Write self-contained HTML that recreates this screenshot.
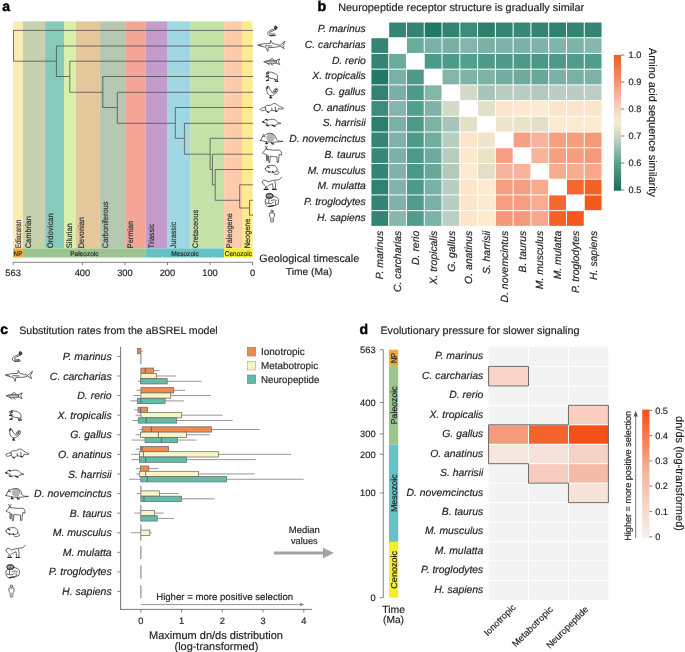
<!DOCTYPE html>
<html><head><meta charset="utf-8"><style>
html,body{margin:0;padding:0;background:#fff;}
svg{display:block;font-family:"Liberation Sans", sans-serif;will-change:transform;text-rendering:geometricPrecision;}
</style></head><body>
<svg width="685" height="652" viewBox="0 0 685 652">
<rect width="685" height="652" fill="#fff"/>
<text x="2.3" y="11.0" font-size="14" text-anchor="start" fill="#000" font-weight="bold"  stroke="#000" stroke-width="0.45">a</text>
<rect x="13.10" y="21.40" width="9.80" height="227.00" fill="#fde9b2"/>
<rect x="22.90" y="21.40" width="22.20" height="227.00" fill="#c6d2ae"/>
<rect x="45.10" y="21.40" width="18.90" height="227.00" fill="#86cbba"/>
<rect x="64.00" y="21.40" width="11.90" height="227.00" fill="#dcefaa"/>
<rect x="75.90" y="21.40" width="23.90" height="227.00" fill="#e4c89c"/>
<rect x="99.80" y="21.40" width="25.40" height="227.00" fill="#b6c7b2"/>
<rect x="125.20" y="21.40" width="20.60" height="227.00" fill="#f5a596"/>
<rect x="145.80" y="21.40" width="21.90" height="227.00" fill="#c39ccd"/>
<rect x="167.70" y="21.40" width="22.60" height="227.00" fill="#9fd8e3"/>
<rect x="190.30" y="21.40" width="33.80" height="227.00" fill="#c4e2a8"/>
<rect x="224.10" y="21.40" width="17.90" height="227.00" fill="#fdcdab"/>
<rect x="242.00" y="21.40" width="10.60" height="227.00" fill="#feeb8b"/>
<text x="21.3" y="248.2" font-size="8.0" text-anchor="start" fill="#333"  textLength="28.5" lengthAdjust="spacingAndGlyphs" transform="rotate(-90 21.3 248.2)" stroke="#333" stroke-width="0.2">Ediacaran</text>
<text x="31.1" y="248.2" font-size="8.0" text-anchor="start" fill="#333"  textLength="32" lengthAdjust="spacingAndGlyphs" transform="rotate(-90 31.1 248.2)" stroke="#333" stroke-width="0.2">Cambrian</text>
<text x="53.3" y="248.2" font-size="8.0" text-anchor="start" fill="#333"  textLength="35" lengthAdjust="spacingAndGlyphs" transform="rotate(-90 53.3 248.2)" stroke="#333" stroke-width="0.2">Ordovican</text>
<text x="72.2" y="248.2" font-size="8.0" text-anchor="start" fill="#333"  textLength="25" lengthAdjust="spacingAndGlyphs" transform="rotate(-90 72.2 248.2)" stroke="#333" stroke-width="0.2">Silurian</text>
<text x="84.1" y="248.2" font-size="8.0" text-anchor="start" fill="#333"  textLength="31" lengthAdjust="spacingAndGlyphs" transform="rotate(-90 84.1 248.2)" stroke="#333" stroke-width="0.2">Devonian</text>
<text x="108.0" y="248.2" font-size="8.0" text-anchor="start" fill="#333"  textLength="46.6" lengthAdjust="spacingAndGlyphs" transform="rotate(-90 108.0 248.2)" stroke="#333" stroke-width="0.2">Carboniferous</text>
<text x="133.4" y="248.2" font-size="8.0" text-anchor="start" fill="#333"  textLength="27.3" lengthAdjust="spacingAndGlyphs" transform="rotate(-90 133.4 248.2)" stroke="#333" stroke-width="0.2">Permian</text>
<text x="154.0" y="248.2" font-size="8.0" text-anchor="start" fill="#333"  textLength="24.3" lengthAdjust="spacingAndGlyphs" transform="rotate(-90 154.0 248.2)" stroke="#333" stroke-width="0.2">Triassic</text>
<text x="175.9" y="248.2" font-size="8.0" text-anchor="start" fill="#333"  textLength="26.3" lengthAdjust="spacingAndGlyphs" transform="rotate(-90 175.9 248.2)" stroke="#333" stroke-width="0.2">Jurassic</text>
<text x="198.5" y="248.2" font-size="8.0" text-anchor="start" fill="#333"  textLength="38.4" lengthAdjust="spacingAndGlyphs" transform="rotate(-90 198.5 248.2)" stroke="#333" stroke-width="0.2">Cretaceous</text>
<text x="232.3" y="248.2" font-size="8.0" text-anchor="start" fill="#333"  textLength="35" lengthAdjust="spacingAndGlyphs" transform="rotate(-90 232.3 248.2)" stroke="#333" stroke-width="0.2">Paleogene</text>
<text x="250.2" y="248.2" font-size="8.0" text-anchor="start" fill="#333"  textLength="29.6" lengthAdjust="spacingAndGlyphs" transform="rotate(-90 250.2 248.2)" stroke="#333" stroke-width="0.2">Neogene</text>
<rect x="13.10" y="248.40" width="9.80" height="9.10" fill="#f6a73a"/>
<text x="18.0" y="255.6" font-size="7.0" text-anchor="middle" fill="#222"  textLength="8.8" lengthAdjust="spacingAndGlyphs" stroke="#222" stroke-width="0.15">NP</text>
<rect x="22.90" y="248.40" width="122.90" height="9.10" fill="#9cc48e"/>
<text x="84.35" y="255.6" font-size="7.0" text-anchor="middle" fill="#222"  textLength="28.3" lengthAdjust="spacingAndGlyphs" stroke="#222" stroke-width="0.15">Paleozoic</text>
<rect x="145.80" y="248.40" width="78.30" height="9.10" fill="#65c3c5"/>
<text x="184.95" y="255.6" font-size="7.0" text-anchor="middle" fill="#222"  textLength="27.6" lengthAdjust="spacingAndGlyphs" stroke="#222" stroke-width="0.15">Mesozoic</text>
<rect x="224.10" y="248.40" width="28.50" height="9.10" fill="#f2ef2e"/>
<text x="238.35" y="255.6" font-size="7.0" text-anchor="middle" fill="#222"  textLength="27.1" lengthAdjust="spacingAndGlyphs" stroke="#222" stroke-width="0.15">Cenozoic</text>
<line x1="13.0" y1="262.3" x2="253.2" y2="262.3" stroke="#666" stroke-width="0.8" />
<line x1="13.11" y1="262.3" x2="13.11" y2="265.2" stroke="#666" stroke-width="0.8" />
<text x="13.11" y="275.8" font-size="9.3" text-anchor="middle" fill="#231f20"   stroke="#231f20" stroke-width="0.18">563</text>
<line x1="82.42" y1="262.3" x2="82.42" y2="265.2" stroke="#666" stroke-width="0.8" />
<text x="82.42" y="275.8" font-size="9.3" text-anchor="middle" fill="#231f20"   stroke="#231f20" stroke-width="0.18">400</text>
<line x1="124.94" y1="262.3" x2="124.94" y2="265.2" stroke="#666" stroke-width="0.8" />
<text x="124.94" y="275.8" font-size="9.3" text-anchor="middle" fill="#231f20"   stroke="#231f20" stroke-width="0.18">300</text>
<line x1="167.46" y1="262.3" x2="167.46" y2="265.2" stroke="#666" stroke-width="0.8" />
<text x="167.46" y="275.8" font-size="9.3" text-anchor="middle" fill="#231f20"   stroke="#231f20" stroke-width="0.18">200</text>
<line x1="209.98" y1="262.3" x2="209.98" y2="265.2" stroke="#666" stroke-width="0.8" />
<text x="209.98" y="275.8" font-size="9.3" text-anchor="middle" fill="#231f20"   stroke="#231f20" stroke-width="0.18">100</text>
<line x1="252.5" y1="262.3" x2="252.5" y2="265.2" stroke="#666" stroke-width="0.8" />
<text x="252.5" y="275.8" font-size="9.3" text-anchor="middle" fill="#231f20"   stroke="#231f20" stroke-width="0.18">0</text>
<text x="309.3" y="262.0" font-size="10.8" text-anchor="middle" fill="#231f20"  textLength="100" lengthAdjust="spacingAndGlyphs"  stroke="#231f20" stroke-width="0.18">Geological timescale</text>
<text x="309.0" y="275.4" font-size="10.0" text-anchor="middle" fill="#231f20"  textLength="46.4" lengthAdjust="spacingAndGlyphs"  stroke="#231f20" stroke-width="0.18">Time (Ma)</text>
<path d="M13.5 30.4V61.2M13.5 30.4H253.0M13.5 61.2H56.4M56.4 46.0V76.5M56.4 46.0H253.0M56.4 76.5H69.8M69.8 61.2V92.3M69.8 61.2H253.0M69.8 92.3H102.8M102.8 76.5V107.5M102.8 76.5H253.0M102.8 107.5H117.3M117.3 92.3V123.3M117.3 92.3H253.0M117.3 123.3H175.3M175.3 107.5V138.3M175.3 107.5H253.0M175.3 138.3H184.4M184.4 123.3V154.2M184.4 123.3H253.0M184.4 154.2H210.1M210.1 138.3V169.5M210.1 138.3H253.0M210.1 169.5H212.4M212.4 154.2V184.8M212.4 154.2H253.0M212.4 184.8H215.2M215.2 169.5V200.3M215.2 169.5H253.0M215.2 200.3H239.7M239.7 184.8V208.0M239.7 184.8H253.0M239.7 208.0H249.5M249.5 200.3V215.2M249.5 200.3H253.0M249.5 215.2H253.0" stroke="#4a4a4a" stroke-width="0.75" fill="none"/>
<text x="317.6" y="11.2" font-size="14.3" text-anchor="start" fill="#000" font-weight="bold"  stroke="#000" stroke-width="0.45">b</text>
<text x="338.2" y="11.2" font-size="10.9" text-anchor="start" fill="#231f20"  textLength="246" lengthAdjust="spacingAndGlyphs"  stroke="#231f20" stroke-width="0.18">Neuropeptide receptor structure is gradually similar</text>
<rect x="389.18" y="22.50" width="16.78" height="14.72" fill="#348573"/>
<rect x="406.96" y="22.50" width="16.78" height="14.72" fill="#338472"/>
<rect x="424.74" y="22.50" width="16.78" height="14.72" fill="#217a66"/>
<rect x="442.52" y="22.50" width="16.78" height="14.72" fill="#338371"/>
<rect x="460.30" y="22.50" width="16.78" height="14.72" fill="#3b8c7b"/>
<rect x="478.08" y="22.50" width="16.78" height="14.72" fill="#2a806c"/>
<rect x="495.86" y="22.50" width="16.78" height="14.72" fill="#348573"/>
<rect x="513.64" y="22.50" width="16.78" height="14.72" fill="#378876"/>
<rect x="531.42" y="22.50" width="16.78" height="14.72" fill="#338472"/>
<rect x="549.20" y="22.50" width="16.78" height="14.72" fill="#2e836f"/>
<rect x="566.98" y="22.50" width="16.78" height="14.72" fill="#338573"/>
<rect x="584.76" y="22.50" width="16.78" height="14.72" fill="#338473"/>
<rect x="371.40" y="38.22" width="16.78" height="14.72" fill="#348573"/>
<rect x="406.96" y="38.22" width="16.78" height="14.72" fill="#6aac9c"/>
<rect x="424.74" y="38.22" width="16.78" height="14.72" fill="#7ab1a5"/>
<rect x="442.52" y="38.22" width="16.78" height="14.72" fill="#78b0a3"/>
<rect x="460.30" y="38.22" width="16.78" height="14.72" fill="#85b5aa"/>
<rect x="478.08" y="38.22" width="16.78" height="14.72" fill="#7ab1a3"/>
<rect x="495.86" y="38.22" width="16.78" height="14.72" fill="#80b3a8"/>
<rect x="513.64" y="38.22" width="16.78" height="14.72" fill="#7cb1a5"/>
<rect x="531.42" y="38.22" width="16.78" height="14.72" fill="#80b3a8"/>
<rect x="549.20" y="38.22" width="16.78" height="14.72" fill="#80b4a8"/>
<rect x="566.98" y="38.22" width="16.78" height="14.72" fill="#80b3a8"/>
<rect x="584.76" y="38.22" width="16.78" height="14.72" fill="#8ab7ac"/>
<rect x="371.40" y="53.94" width="16.78" height="14.72" fill="#338472"/>
<rect x="389.18" y="53.94" width="16.78" height="14.72" fill="#6aac9c"/>
<rect x="424.74" y="53.94" width="16.78" height="14.72" fill="#4d9a88"/>
<rect x="442.52" y="53.94" width="16.78" height="14.72" fill="#4c9a88"/>
<rect x="460.30" y="53.94" width="16.78" height="14.72" fill="#50a08e"/>
<rect x="478.08" y="53.94" width="16.78" height="14.72" fill="#4c9a88"/>
<rect x="495.86" y="53.94" width="16.78" height="14.72" fill="#4e9b89"/>
<rect x="513.64" y="53.94" width="16.78" height="14.72" fill="#4c9a88"/>
<rect x="531.42" y="53.94" width="16.78" height="14.72" fill="#4a9986"/>
<rect x="549.20" y="53.94" width="16.78" height="14.72" fill="#4c9b89"/>
<rect x="566.98" y="53.94" width="16.78" height="14.72" fill="#4e9c8a"/>
<rect x="584.76" y="53.94" width="16.78" height="14.72" fill="#509d8b"/>
<rect x="371.40" y="69.66" width="16.78" height="14.72" fill="#217a66"/>
<rect x="389.18" y="69.66" width="16.78" height="14.72" fill="#7ab1a5"/>
<rect x="406.96" y="69.66" width="16.78" height="14.72" fill="#4d9a88"/>
<rect x="442.52" y="69.66" width="16.78" height="14.72" fill="#85b5a9"/>
<rect x="460.30" y="69.66" width="16.78" height="14.72" fill="#80b3a7"/>
<rect x="478.08" y="69.66" width="16.78" height="14.72" fill="#7db2a5"/>
<rect x="495.86" y="69.66" width="16.78" height="14.72" fill="#72ad9f"/>
<rect x="513.64" y="69.66" width="16.78" height="14.72" fill="#6eab9d"/>
<rect x="531.42" y="69.66" width="16.78" height="14.72" fill="#68a899"/>
<rect x="549.20" y="69.66" width="16.78" height="14.72" fill="#7ab1a4"/>
<rect x="566.98" y="69.66" width="16.78" height="14.72" fill="#79b1a4"/>
<rect x="584.76" y="69.66" width="16.78" height="14.72" fill="#7db2a6"/>
<rect x="371.40" y="85.38" width="16.78" height="14.72" fill="#338371"/>
<rect x="389.18" y="85.38" width="16.78" height="14.72" fill="#78b0a3"/>
<rect x="406.96" y="85.38" width="16.78" height="14.72" fill="#4c9a88"/>
<rect x="424.74" y="85.38" width="16.78" height="14.72" fill="#85b5a9"/>
<rect x="460.30" y="85.38" width="16.78" height="14.72" fill="#d4dac8"/>
<rect x="478.08" y="85.38" width="16.78" height="14.72" fill="#a9c5bb"/>
<rect x="495.86" y="85.38" width="16.78" height="14.72" fill="#b9cdc0"/>
<rect x="513.64" y="85.38" width="16.78" height="14.72" fill="#b8ccbf"/>
<rect x="531.42" y="85.38" width="16.78" height="14.72" fill="#b2c9bc"/>
<rect x="549.20" y="85.38" width="16.78" height="14.72" fill="#b9cdc0"/>
<rect x="566.98" y="85.38" width="16.78" height="14.72" fill="#b9cdc0"/>
<rect x="584.76" y="85.38" width="16.78" height="14.72" fill="#bbcec1"/>
<rect x="371.40" y="101.10" width="16.78" height="14.72" fill="#3b8c7b"/>
<rect x="389.18" y="101.10" width="16.78" height="14.72" fill="#85b5aa"/>
<rect x="406.96" y="101.10" width="16.78" height="14.72" fill="#50a08e"/>
<rect x="424.74" y="101.10" width="16.78" height="14.72" fill="#80b3a7"/>
<rect x="442.52" y="101.10" width="16.78" height="14.72" fill="#d4dac8"/>
<rect x="478.08" y="101.10" width="16.78" height="14.72" fill="#e2e0c8"/>
<rect x="495.86" y="101.10" width="16.78" height="14.72" fill="#fde5cc"/>
<rect x="513.64" y="101.10" width="16.78" height="14.72" fill="#fde8cf"/>
<rect x="531.42" y="101.10" width="16.78" height="14.72" fill="#fbebd0"/>
<rect x="549.20" y="101.10" width="16.78" height="14.72" fill="#fde5cc"/>
<rect x="566.98" y="101.10" width="16.78" height="14.72" fill="#fde5cc"/>
<rect x="584.76" y="101.10" width="16.78" height="14.72" fill="#fde5cc"/>
<rect x="371.40" y="116.82" width="16.78" height="14.72" fill="#2a806c"/>
<rect x="389.18" y="116.82" width="16.78" height="14.72" fill="#7ab1a3"/>
<rect x="406.96" y="116.82" width="16.78" height="14.72" fill="#4c9a88"/>
<rect x="424.74" y="116.82" width="16.78" height="14.72" fill="#7db2a5"/>
<rect x="442.52" y="116.82" width="16.78" height="14.72" fill="#a9c5bb"/>
<rect x="460.30" y="116.82" width="16.78" height="14.72" fill="#e2e0c8"/>
<rect x="495.86" y="116.82" width="16.78" height="14.72" fill="#f1e6cc"/>
<rect x="513.64" y="116.82" width="16.78" height="14.72" fill="#ebe3c8"/>
<rect x="531.42" y="116.82" width="16.78" height="14.72" fill="#e2dfc6"/>
<rect x="549.20" y="116.82" width="16.78" height="14.72" fill="#fdebd0"/>
<rect x="566.98" y="116.82" width="16.78" height="14.72" fill="#fdebd0"/>
<rect x="584.76" y="116.82" width="16.78" height="14.72" fill="#fdebd0"/>
<rect x="371.40" y="132.54" width="16.78" height="14.72" fill="#348573"/>
<rect x="389.18" y="132.54" width="16.78" height="14.72" fill="#80b3a8"/>
<rect x="406.96" y="132.54" width="16.78" height="14.72" fill="#4e9b89"/>
<rect x="424.74" y="132.54" width="16.78" height="14.72" fill="#72ad9f"/>
<rect x="442.52" y="132.54" width="16.78" height="14.72" fill="#b9cdc0"/>
<rect x="460.30" y="132.54" width="16.78" height="14.72" fill="#fde5cc"/>
<rect x="478.08" y="132.54" width="16.78" height="14.72" fill="#f1e6cc"/>
<rect x="513.64" y="132.54" width="16.78" height="14.72" fill="#f5a083"/>
<rect x="531.42" y="132.54" width="16.78" height="14.72" fill="#f7b39b"/>
<rect x="549.20" y="132.54" width="16.78" height="14.72" fill="#f59f7e"/>
<rect x="566.98" y="132.54" width="16.78" height="14.72" fill="#f59f7e"/>
<rect x="584.76" y="132.54" width="16.78" height="14.72" fill="#f5997a"/>
<rect x="371.40" y="148.26" width="16.78" height="14.72" fill="#378876"/>
<rect x="389.18" y="148.26" width="16.78" height="14.72" fill="#7cb1a5"/>
<rect x="406.96" y="148.26" width="16.78" height="14.72" fill="#4c9a88"/>
<rect x="424.74" y="148.26" width="16.78" height="14.72" fill="#6eab9d"/>
<rect x="442.52" y="148.26" width="16.78" height="14.72" fill="#b8ccbf"/>
<rect x="460.30" y="148.26" width="16.78" height="14.72" fill="#fde8cf"/>
<rect x="478.08" y="148.26" width="16.78" height="14.72" fill="#ebe3c8"/>
<rect x="495.86" y="148.26" width="16.78" height="14.72" fill="#f5a083"/>
<rect x="531.42" y="148.26" width="16.78" height="14.72" fill="#f7b39b"/>
<rect x="549.20" y="148.26" width="16.78" height="14.72" fill="#f59f7e"/>
<rect x="566.98" y="148.26" width="16.78" height="14.72" fill="#f59f7e"/>
<rect x="584.76" y="148.26" width="16.78" height="14.72" fill="#f5997a"/>
<rect x="371.40" y="163.98" width="16.78" height="14.72" fill="#338472"/>
<rect x="389.18" y="163.98" width="16.78" height="14.72" fill="#80b3a8"/>
<rect x="406.96" y="163.98" width="16.78" height="14.72" fill="#4a9986"/>
<rect x="424.74" y="163.98" width="16.78" height="14.72" fill="#68a899"/>
<rect x="442.52" y="163.98" width="16.78" height="14.72" fill="#b2c9bc"/>
<rect x="460.30" y="163.98" width="16.78" height="14.72" fill="#fbebd0"/>
<rect x="478.08" y="163.98" width="16.78" height="14.72" fill="#e2dfc6"/>
<rect x="495.86" y="163.98" width="16.78" height="14.72" fill="#f7b39b"/>
<rect x="513.64" y="163.98" width="16.78" height="14.72" fill="#f7b39b"/>
<rect x="549.20" y="163.98" width="16.78" height="14.72" fill="#f7ac90"/>
<rect x="566.98" y="163.98" width="16.78" height="14.72" fill="#f7ac90"/>
<rect x="584.76" y="163.98" width="16.78" height="14.72" fill="#f7a88c"/>
<rect x="371.40" y="179.70" width="16.78" height="14.72" fill="#2e836f"/>
<rect x="389.18" y="179.70" width="16.78" height="14.72" fill="#80b4a8"/>
<rect x="406.96" y="179.70" width="16.78" height="14.72" fill="#4c9b89"/>
<rect x="424.74" y="179.70" width="16.78" height="14.72" fill="#7ab1a4"/>
<rect x="442.52" y="179.70" width="16.78" height="14.72" fill="#b9cdc0"/>
<rect x="460.30" y="179.70" width="16.78" height="14.72" fill="#fde5cc"/>
<rect x="478.08" y="179.70" width="16.78" height="14.72" fill="#fdebd0"/>
<rect x="495.86" y="179.70" width="16.78" height="14.72" fill="#f59f7e"/>
<rect x="513.64" y="179.70" width="16.78" height="14.72" fill="#f59f7e"/>
<rect x="531.42" y="179.70" width="16.78" height="14.72" fill="#f7ac90"/>
<rect x="566.98" y="179.70" width="16.78" height="14.72" fill="#f56630"/>
<rect x="584.76" y="179.70" width="16.78" height="14.72" fill="#f66027"/>
<rect x="371.40" y="195.42" width="16.78" height="14.72" fill="#338573"/>
<rect x="389.18" y="195.42" width="16.78" height="14.72" fill="#80b3a8"/>
<rect x="406.96" y="195.42" width="16.78" height="14.72" fill="#4e9c8a"/>
<rect x="424.74" y="195.42" width="16.78" height="14.72" fill="#79b1a4"/>
<rect x="442.52" y="195.42" width="16.78" height="14.72" fill="#b9cdc0"/>
<rect x="460.30" y="195.42" width="16.78" height="14.72" fill="#fde5cc"/>
<rect x="478.08" y="195.42" width="16.78" height="14.72" fill="#fdebd0"/>
<rect x="495.86" y="195.42" width="16.78" height="14.72" fill="#f59f7e"/>
<rect x="513.64" y="195.42" width="16.78" height="14.72" fill="#f59f7e"/>
<rect x="531.42" y="195.42" width="16.78" height="14.72" fill="#f7ac90"/>
<rect x="549.20" y="195.42" width="16.78" height="14.72" fill="#f56630"/>
<rect x="584.76" y="195.42" width="16.78" height="14.72" fill="#f6581c"/>
<rect x="371.40" y="211.14" width="16.78" height="14.72" fill="#338473"/>
<rect x="389.18" y="211.14" width="16.78" height="14.72" fill="#8ab7ac"/>
<rect x="406.96" y="211.14" width="16.78" height="14.72" fill="#509d8b"/>
<rect x="424.74" y="211.14" width="16.78" height="14.72" fill="#7db2a6"/>
<rect x="442.52" y="211.14" width="16.78" height="14.72" fill="#bbcec1"/>
<rect x="460.30" y="211.14" width="16.78" height="14.72" fill="#fde5cc"/>
<rect x="478.08" y="211.14" width="16.78" height="14.72" fill="#fdebd0"/>
<rect x="495.86" y="211.14" width="16.78" height="14.72" fill="#f5997a"/>
<rect x="513.64" y="211.14" width="16.78" height="14.72" fill="#f5997a"/>
<rect x="531.42" y="211.14" width="16.78" height="14.72" fill="#f7a88c"/>
<rect x="549.20" y="211.14" width="16.78" height="14.72" fill="#f66027"/>
<rect x="566.98" y="211.14" width="16.78" height="14.72" fill="#f6581c"/>
<text x="365.8" y="32.16" font-size="10.35" text-anchor="end" fill="#231f20" font-style="italic"   stroke="#231f20" stroke-width="0.18">P. marinus</text>
<text x="383.39" y="230.8" font-size="10.4" text-anchor="end" fill="#231f20" font-style="italic"  transform="rotate(-90 383.39 230.8)"  stroke="#231f20" stroke-width="0.18">P. marinus</text>
<text x="365.8" y="47.88" font-size="10.35" text-anchor="end" fill="#231f20" font-style="italic"   stroke="#231f20" stroke-width="0.18">C. carcharias</text>
<text x="401.17" y="230.8" font-size="10.4" text-anchor="end" fill="#231f20" font-style="italic"  transform="rotate(-90 401.17 230.8)"  stroke="#231f20" stroke-width="0.18">C. carcharias</text>
<text x="365.8" y="63.6" font-size="10.35" text-anchor="end" fill="#231f20" font-style="italic"   stroke="#231f20" stroke-width="0.18">D. rerio</text>
<text x="418.95" y="230.8" font-size="10.4" text-anchor="end" fill="#231f20" font-style="italic"  transform="rotate(-90 418.95 230.8)"  stroke="#231f20" stroke-width="0.18">D. rerio</text>
<text x="365.8" y="79.32" font-size="10.35" text-anchor="end" fill="#231f20" font-style="italic"   stroke="#231f20" stroke-width="0.18">X. tropicalis</text>
<text x="436.73" y="230.8" font-size="10.4" text-anchor="end" fill="#231f20" font-style="italic"  transform="rotate(-90 436.73 230.8)"  stroke="#231f20" stroke-width="0.18">X. tropicalis</text>
<text x="365.8" y="95.04" font-size="10.35" text-anchor="end" fill="#231f20" font-style="italic"   stroke="#231f20" stroke-width="0.18">G. gallus</text>
<text x="454.51" y="230.8" font-size="10.4" text-anchor="end" fill="#231f20" font-style="italic"  transform="rotate(-90 454.51 230.8)"  stroke="#231f20" stroke-width="0.18">G. gallus</text>
<text x="365.8" y="110.76" font-size="10.35" text-anchor="end" fill="#231f20" font-style="italic"   stroke="#231f20" stroke-width="0.18">O. anatinus</text>
<text x="472.29" y="230.8" font-size="10.4" text-anchor="end" fill="#231f20" font-style="italic"  transform="rotate(-90 472.29 230.8)"  stroke="#231f20" stroke-width="0.18">O. anatinus</text>
<text x="365.8" y="126.48" font-size="10.35" text-anchor="end" fill="#231f20" font-style="italic"   stroke="#231f20" stroke-width="0.18">S. harrisii</text>
<text x="490.07" y="230.8" font-size="10.4" text-anchor="end" fill="#231f20" font-style="italic"  transform="rotate(-90 490.07 230.8)"  stroke="#231f20" stroke-width="0.18">S. harrisii</text>
<text x="365.8" y="142.2" font-size="10.35" text-anchor="end" fill="#231f20" font-style="italic"   stroke="#231f20" stroke-width="0.18">D. novemcinctus</text>
<text x="507.85" y="230.8" font-size="10.4" text-anchor="end" fill="#231f20" font-style="italic"  transform="rotate(-90 507.85 230.8)"  stroke="#231f20" stroke-width="0.18">D. novemcintus</text>
<text x="365.8" y="157.92" font-size="10.35" text-anchor="end" fill="#231f20" font-style="italic"   stroke="#231f20" stroke-width="0.18">B. taurus</text>
<text x="525.63" y="230.8" font-size="10.4" text-anchor="end" fill="#231f20" font-style="italic"  transform="rotate(-90 525.63 230.8)"  stroke="#231f20" stroke-width="0.18">B. taurus</text>
<text x="365.8" y="173.64" font-size="10.35" text-anchor="end" fill="#231f20" font-style="italic"   stroke="#231f20" stroke-width="0.18">M. musculus</text>
<text x="543.41" y="230.8" font-size="10.4" text-anchor="end" fill="#231f20" font-style="italic"  transform="rotate(-90 543.41 230.8)"  stroke="#231f20" stroke-width="0.18">M. musculus</text>
<text x="365.8" y="189.36" font-size="10.35" text-anchor="end" fill="#231f20" font-style="italic"   stroke="#231f20" stroke-width="0.18">M. mulatta</text>
<text x="561.19" y="230.8" font-size="10.4" text-anchor="end" fill="#231f20" font-style="italic"  transform="rotate(-90 561.19 230.8)"  stroke="#231f20" stroke-width="0.18">M. mulatta</text>
<text x="365.8" y="205.08" font-size="10.35" text-anchor="end" fill="#231f20" font-style="italic"   stroke="#231f20" stroke-width="0.18">P. troglodytes</text>
<text x="578.97" y="230.8" font-size="10.4" text-anchor="end" fill="#231f20" font-style="italic"  transform="rotate(-90 578.97 230.8)"  stroke="#231f20" stroke-width="0.18">P. troglodytes</text>
<text x="365.8" y="220.8" font-size="10.35" text-anchor="end" fill="#231f20" font-style="italic"   stroke="#231f20" stroke-width="0.18">H. sapiens</text>
<text x="596.75" y="230.8" font-size="10.4" text-anchor="end" fill="#231f20" font-style="italic"  transform="rotate(-90 596.75 230.8)"  stroke="#231f20" stroke-width="0.18">H. sapiens</text>
<defs><linearGradient id="cb1" x1="0" y1="1" x2="0" y2="0"><stop offset="0" stop-color="#1c6b58"/><stop offset="0.2" stop-color="#5f9f8c"/><stop offset="0.4" stop-color="#c8d8c8"/><stop offset="0.5" stop-color="#fbecd2"/><stop offset="0.6" stop-color="#f6d6c4"/><stop offset="0.8" stop-color="#f29478"/><stop offset="1" stop-color="#f25a22"/></linearGradient><linearGradient id="cb2" x1="0" y1="1" x2="0" y2="0"><stop offset="0" stop-color="#f6f1ef"/><stop offset="0.5" stop-color="#f6b79c"/><stop offset="1" stop-color="#f55016"/></linearGradient></defs>
<rect x="613.90" y="54.90" width="7.20" height="135.80" fill="url(#cb1)"/>
<line x1="621.1" y1="55.0" x2="624.3" y2="55.0" stroke="#555" stroke-width="0.8" />
<text x="628.6" y="58.2" font-size="9.2" text-anchor="start" fill="#231f20"   stroke="#231f20" stroke-width="0.18">1.0</text>
<line x1="621.1" y1="82.0" x2="624.3" y2="82.0" stroke="#555" stroke-width="0.8" />
<text x="628.6" y="85.2" font-size="9.2" text-anchor="start" fill="#231f20"   stroke="#231f20" stroke-width="0.18">0.9</text>
<line x1="621.1" y1="109.0" x2="624.3" y2="109.0" stroke="#555" stroke-width="0.8" />
<text x="628.6" y="112.2" font-size="9.2" text-anchor="start" fill="#231f20"   stroke="#231f20" stroke-width="0.18">0.8</text>
<line x1="621.1" y1="136.0" x2="624.3" y2="136.0" stroke="#555" stroke-width="0.8" />
<text x="628.6" y="139.2" font-size="9.2" text-anchor="start" fill="#231f20"   stroke="#231f20" stroke-width="0.18">0.7</text>
<line x1="621.1" y1="163.0" x2="624.3" y2="163.0" stroke="#555" stroke-width="0.8" />
<text x="628.6" y="166.2" font-size="9.2" text-anchor="start" fill="#231f20"   stroke="#231f20" stroke-width="0.18">0.6</text>
<line x1="621.1" y1="190.0" x2="624.3" y2="190.0" stroke="#555" stroke-width="0.8" />
<text x="628.6" y="193.2" font-size="9.2" text-anchor="start" fill="#231f20"   stroke="#231f20" stroke-width="0.18">0.5</text>
<text x="649.0" y="48.0" font-size="10.85" text-anchor="start" fill="#231f20"  textLength="149" lengthAdjust="spacingAndGlyphs" transform="rotate(90 649.0 48.0)"  stroke="#231f20" stroke-width="0.18">Amino acid sequence similarity</text>
<text x="0.3" y="333.6" font-size="14" text-anchor="start" fill="#000" font-weight="bold"  stroke="#000" stroke-width="0.45">c</text>
<text x="19.2" y="333.9" font-size="10.6" text-anchor="start" fill="#231f20"  textLength="198.5" lengthAdjust="spacingAndGlyphs"  stroke="#231f20" stroke-width="0.18">Substitution rates from the aBSREL model</text>
<text x="111.7" y="360.0" font-size="10.5" text-anchor="end" fill="#231f20" font-style="italic"   stroke="#231f20" stroke-width="0.18">P. marinus</text>
<line x1="117.3" y1="356.4" x2="120.6" y2="356.4" stroke="#666" stroke-width="0.8" />
<text x="111.7" y="379.59" font-size="10.5" text-anchor="end" fill="#231f20" font-style="italic"   stroke="#231f20" stroke-width="0.18">C. carcharias</text>
<line x1="117.3" y1="375.99" x2="120.6" y2="375.99" stroke="#666" stroke-width="0.8" />
<text x="111.7" y="399.18" font-size="10.5" text-anchor="end" fill="#231f20" font-style="italic"   stroke="#231f20" stroke-width="0.18">D. rerio</text>
<line x1="117.3" y1="395.58" x2="120.6" y2="395.58" stroke="#666" stroke-width="0.8" />
<text x="111.7" y="418.77" font-size="10.5" text-anchor="end" fill="#231f20" font-style="italic"   stroke="#231f20" stroke-width="0.18">X. tropicalis</text>
<line x1="117.3" y1="415.17" x2="120.6" y2="415.17" stroke="#666" stroke-width="0.8" />
<text x="111.7" y="438.36" font-size="10.5" text-anchor="end" fill="#231f20" font-style="italic"   stroke="#231f20" stroke-width="0.18">G. gallus</text>
<line x1="117.3" y1="434.76" x2="120.6" y2="434.76" stroke="#666" stroke-width="0.8" />
<text x="111.7" y="457.95" font-size="10.5" text-anchor="end" fill="#231f20" font-style="italic"   stroke="#231f20" stroke-width="0.18">O. anatinus</text>
<line x1="117.3" y1="454.35" x2="120.6" y2="454.35" stroke="#666" stroke-width="0.8" />
<text x="111.7" y="477.54" font-size="10.5" text-anchor="end" fill="#231f20" font-style="italic"   stroke="#231f20" stroke-width="0.18">S. harrisii</text>
<line x1="117.3" y1="473.94" x2="120.6" y2="473.94" stroke="#666" stroke-width="0.8" />
<text x="111.7" y="497.13" font-size="10.5" text-anchor="end" fill="#231f20" font-style="italic"   stroke="#231f20" stroke-width="0.18">D. novemcinctus</text>
<line x1="117.3" y1="493.53" x2="120.6" y2="493.53" stroke="#666" stroke-width="0.8" />
<text x="111.7" y="516.72" font-size="10.5" text-anchor="end" fill="#231f20" font-style="italic"   stroke="#231f20" stroke-width="0.18">B. taurus</text>
<line x1="117.3" y1="513.12" x2="120.6" y2="513.12" stroke="#666" stroke-width="0.8" />
<text x="111.7" y="536.31" font-size="10.5" text-anchor="end" fill="#231f20" font-style="italic"   stroke="#231f20" stroke-width="0.18">M. musculus</text>
<line x1="117.3" y1="532.71" x2="120.6" y2="532.71" stroke="#666" stroke-width="0.8" />
<text x="111.7" y="555.9" font-size="10.5" text-anchor="end" fill="#231f20" font-style="italic"   stroke="#231f20" stroke-width="0.18">M. mulatta</text>
<line x1="117.3" y1="552.3" x2="120.6" y2="552.3" stroke="#666" stroke-width="0.8" />
<text x="111.7" y="575.49" font-size="10.5" text-anchor="end" fill="#231f20" font-style="italic"   stroke="#231f20" stroke-width="0.18">P. troglodytes</text>
<line x1="117.3" y1="571.89" x2="120.6" y2="571.89" stroke="#666" stroke-width="0.8" />
<text x="111.7" y="595.08" font-size="10.5" text-anchor="end" fill="#231f20" font-style="italic"   stroke="#231f20" stroke-width="0.18">H. sapiens</text>
<line x1="117.3" y1="591.48" x2="120.6" y2="591.48" stroke="#666" stroke-width="0.8" />
<line x1="120.6" y1="346.8" x2="120.6" y2="609.8" stroke="#666" stroke-width="0.9" />
<line x1="120.2" y1="609.4" x2="312.0" y2="609.4" stroke="#666" stroke-width="0.9" />
<line x1="140.8" y1="609.4" x2="140.8" y2="612.4" stroke="#666" stroke-width="0.8" />
<text x="140.8" y="623.6" font-size="9.3" text-anchor="middle" fill="#231f20"   stroke="#231f20" stroke-width="0.18">0</text>
<line x1="181.55" y1="609.4" x2="181.55" y2="612.4" stroke="#666" stroke-width="0.8" />
<text x="181.55" y="623.6" font-size="9.3" text-anchor="middle" fill="#231f20"   stroke="#231f20" stroke-width="0.18">1</text>
<line x1="222.3" y1="609.4" x2="222.3" y2="612.4" stroke="#666" stroke-width="0.8" />
<text x="222.3" y="623.6" font-size="9.3" text-anchor="middle" fill="#231f20"   stroke="#231f20" stroke-width="0.18">2</text>
<line x1="263.05" y1="609.4" x2="263.05" y2="612.4" stroke="#666" stroke-width="0.8" />
<text x="263.05" y="623.6" font-size="9.3" text-anchor="middle" fill="#231f20"   stroke="#231f20" stroke-width="0.18">3</text>
<line x1="303.8" y1="609.4" x2="303.8" y2="612.4" stroke="#666" stroke-width="0.8" />
<text x="303.8" y="623.6" font-size="9.3" text-anchor="middle" fill="#231f20"   stroke="#231f20" stroke-width="0.18">4</text>
<text x="216.0" y="638.6" font-size="11.0" text-anchor="middle" fill="#231f20"  textLength="134" lengthAdjust="spacingAndGlyphs"  stroke="#231f20" stroke-width="0.18">Maximum dn/ds distribution</text>
<text x="216.4" y="650.0" font-size="10.9" text-anchor="middle" fill="#231f20"  textLength="83.8" lengthAdjust="spacingAndGlyphs"  stroke="#231f20" stroke-width="0.18">(log-transformed)</text>
<text x="224.7" y="599.8" font-size="9.6" text-anchor="middle" fill="#231f20"  textLength="137" lengthAdjust="spacingAndGlyphs"  stroke="#231f20" stroke-width="0.18">Higher = more positive selection</text>
<line x1="140.8" y1="604.6" x2="301.0" y2="604.6" stroke="#8a8a8a" stroke-width="0.9" />
<path d="M304.5 604.6 L299.5 602.6 L300.6 604.6 L299.5 606.6 Z" fill="#8a8a8a"/>
<rect x="247.50" y="347.40" width="8.20" height="8.60" fill="#f0894f" stroke="#b96d45" stroke-width="0.6"/>
<rect x="247.50" y="361.30" width="8.20" height="8.60" fill="#f8f5c5" stroke="#aaa890" stroke-width="0.6"/>
<rect x="247.50" y="375.00" width="8.20" height="8.60" fill="#62bca8" stroke="#4f8c80" stroke-width="0.6"/>
<text x="261.0" y="354.9" font-size="10.0" text-anchor="start" fill="#231f20"  textLength="43.8" lengthAdjust="spacingAndGlyphs"  stroke="#231f20" stroke-width="0.18">Ionotropic</text>
<text x="261.0" y="368.8" font-size="10.0" text-anchor="start" fill="#231f20"  textLength="57.2" lengthAdjust="spacingAndGlyphs"  stroke="#231f20" stroke-width="0.18">Metabotropic</text>
<text x="261.0" y="382.6" font-size="10.0" text-anchor="start" fill="#231f20"  textLength="58.4" lengthAdjust="spacingAndGlyphs"  stroke="#231f20" stroke-width="0.18">Neuropeptide</text>
<text x="304.3" y="533.0" font-size="9.5" text-anchor="middle" fill="#231f20"  textLength="31.1" lengthAdjust="spacingAndGlyphs"  stroke="#231f20" stroke-width="0.18">Median</text>
<text x="304.3" y="543.8" font-size="9.3" text-anchor="middle" fill="#231f20"  textLength="26.7" lengthAdjust="spacingAndGlyphs"  stroke="#231f20" stroke-width="0.18">values</text>
<path d="M274 551.5 H323 V547.8 L334 553.0 L323 558.2 V554.6 H274 Z" fill="#a3a3a3"/>
<line x1="140.9" y1="351.1" x2="142.7" y2="351.1" stroke="#7a7a7a" stroke-width="0.8" />
<rect x="137.40" y="348.45" width="3.50" height="5.30" fill="#f0894f" stroke="#6b6b6b" stroke-width="0.75"/>
<line x1="153.5" y1="370.69" x2="159.7" y2="370.69" stroke="#7a7a7a" stroke-width="0.8" />
<rect x="140.90" y="368.04" width="12.60" height="5.30" fill="#f0894f" stroke="#6b6b6b" stroke-width="0.75"/>
<line x1="145.3" y1="368.04" x2="145.3" y2="373.34" stroke="#555" stroke-width="0.8" />
<line x1="156.3" y1="375.99" x2="176.0" y2="375.99" stroke="#7a7a7a" stroke-width="0.8" />
<rect x="140.90" y="373.34" width="15.40" height="5.30" fill="#f8f5c5" stroke="#6b6b6b" stroke-width="0.75"/>
<line x1="138.1" y1="381.29" x2="140.6" y2="381.29" stroke="#7a7a7a" stroke-width="0.8" />
<line x1="167.2" y1="381.29" x2="201.7" y2="381.29" stroke="#7a7a7a" stroke-width="0.8" />
<rect x="140.60" y="378.64" width="26.60" height="5.30" fill="#62bca8" stroke="#6b6b6b" stroke-width="0.75"/>
<line x1="136.4" y1="390.28" x2="140.9" y2="390.28" stroke="#7a7a7a" stroke-width="0.8" />
<line x1="173.7" y1="390.28" x2="185.1" y2="390.28" stroke="#7a7a7a" stroke-width="0.8" />
<rect x="140.90" y="387.63" width="32.80" height="5.30" fill="#f0894f" stroke="#6b6b6b" stroke-width="0.75"/>
<line x1="133.2" y1="395.58" x2="140.9" y2="395.58" stroke="#7a7a7a" stroke-width="0.8" />
<line x1="170.7" y1="395.58" x2="211.0" y2="395.58" stroke="#7a7a7a" stroke-width="0.8" />
<rect x="140.90" y="392.93" width="29.80" height="5.30" fill="#f8f5c5" stroke="#6b6b6b" stroke-width="0.75"/>
<line x1="130.4" y1="400.88" x2="137.4" y2="400.88" stroke="#7a7a7a" stroke-width="0.8" />
<line x1="165.1" y1="400.88" x2="183.9" y2="400.88" stroke="#7a7a7a" stroke-width="0.8" />
<rect x="137.40" y="398.23" width="27.70" height="5.30" fill="#62bca8" stroke="#6b6b6b" stroke-width="0.75"/>
<line x1="140.9" y1="398.23" x2="140.9" y2="403.53" stroke="#555" stroke-width="0.8" />
<line x1="134.3" y1="409.87" x2="138.1" y2="409.87" stroke="#7a7a7a" stroke-width="0.8" />
<rect x="138.10" y="407.22" width="9.50" height="5.30" fill="#f0894f" stroke="#6b6b6b" stroke-width="0.75"/>
<line x1="140.6" y1="407.22" x2="140.6" y2="412.52" stroke="#555" stroke-width="0.8" />
<line x1="135.7" y1="415.17" x2="140.9" y2="415.17" stroke="#7a7a7a" stroke-width="0.8" />
<line x1="181.6" y1="415.17" x2="222.7" y2="415.17" stroke="#7a7a7a" stroke-width="0.8" />
<rect x="140.90" y="412.52" width="40.70" height="5.30" fill="#f8f5c5" stroke="#6b6b6b" stroke-width="0.75"/>
<line x1="132.5" y1="420.47" x2="138.3" y2="420.47" stroke="#7a7a7a" stroke-width="0.8" />
<line x1="176.7" y1="420.47" x2="232.7" y2="420.47" stroke="#7a7a7a" stroke-width="0.8" />
<rect x="138.30" y="417.82" width="38.40" height="5.30" fill="#62bca8" stroke="#6b6b6b" stroke-width="0.75"/>
<line x1="146.2" y1="417.82" x2="146.2" y2="423.12" stroke="#555" stroke-width="0.8" />
<line x1="139.2" y1="429.46" x2="142.2" y2="429.46" stroke="#7a7a7a" stroke-width="0.8" />
<line x1="211.4" y1="429.46" x2="259.7" y2="429.46" stroke="#7a7a7a" stroke-width="0.8" />
<rect x="142.20" y="426.81" width="69.20" height="5.30" fill="#f0894f" stroke="#6b6b6b" stroke-width="0.75"/>
<line x1="151.4" y1="426.81" x2="151.4" y2="432.11" stroke="#555" stroke-width="0.8" />
<line x1="135.7" y1="434.76" x2="140.4" y2="434.76" stroke="#7a7a7a" stroke-width="0.8" />
<line x1="186.5" y1="434.76" x2="209.6" y2="434.76" stroke="#7a7a7a" stroke-width="0.8" />
<rect x="140.40" y="432.11" width="46.10" height="5.30" fill="#f8f5c5" stroke="#6b6b6b" stroke-width="0.75"/>
<line x1="158.4" y1="432.11" x2="158.4" y2="437.41" stroke="#555" stroke-width="0.8" />
<line x1="131.6" y1="440.06" x2="145.1" y2="440.06" stroke="#7a7a7a" stroke-width="0.8" />
<line x1="177.5" y1="440.06" x2="196.5" y2="440.06" stroke="#7a7a7a" stroke-width="0.8" />
<rect x="145.10" y="437.41" width="32.40" height="5.30" fill="#62bca8" stroke="#6b6b6b" stroke-width="0.75"/>
<line x1="161.4" y1="437.41" x2="161.4" y2="442.71" stroke="#555" stroke-width="0.8" />
<line x1="136.0" y1="449.05" x2="140.6" y2="449.05" stroke="#7a7a7a" stroke-width="0.8" />
<rect x="140.60" y="446.40" width="28.00" height="5.30" fill="#f0894f" stroke="#6b6b6b" stroke-width="0.75"/>
<line x1="142.0" y1="446.4" x2="142.0" y2="451.7" stroke="#555" stroke-width="0.8" />
<line x1="131.1" y1="454.35" x2="139.5" y2="454.35" stroke="#7a7a7a" stroke-width="0.8" />
<line x1="218.4" y1="454.35" x2="291.2" y2="454.35" stroke="#7a7a7a" stroke-width="0.8" />
<rect x="139.50" y="451.70" width="78.90" height="5.30" fill="#f8f5c5" stroke="#6b6b6b" stroke-width="0.75"/>
<line x1="143.4" y1="451.7" x2="143.4" y2="457.0" stroke="#555" stroke-width="0.8" />
<line x1="131.6" y1="459.65" x2="139.5" y2="459.65" stroke="#7a7a7a" stroke-width="0.8" />
<line x1="186.5" y1="459.65" x2="255.8" y2="459.65" stroke="#7a7a7a" stroke-width="0.8" />
<rect x="139.50" y="457.00" width="47.00" height="5.30" fill="#62bca8" stroke="#6b6b6b" stroke-width="0.75"/>
<line x1="145.7" y1="457.0" x2="145.7" y2="462.3" stroke="#555" stroke-width="0.8" />
<line x1="136.0" y1="468.64" x2="140.6" y2="468.64" stroke="#7a7a7a" stroke-width="0.8" />
<line x1="148.8" y1="468.64" x2="157.9" y2="468.64" stroke="#7a7a7a" stroke-width="0.8" />
<rect x="140.60" y="465.99" width="8.20" height="5.30" fill="#f0894f" stroke="#6b6b6b" stroke-width="0.75"/>
<line x1="136.4" y1="473.94" x2="139.5" y2="473.94" stroke="#7a7a7a" stroke-width="0.8" />
<line x1="198.6" y1="473.94" x2="254.7" y2="473.94" stroke="#7a7a7a" stroke-width="0.8" />
<rect x="139.50" y="471.29" width="59.10" height="5.30" fill="#f8f5c5" stroke="#6b6b6b" stroke-width="0.75"/>
<line x1="145.7" y1="471.29" x2="145.7" y2="476.59" stroke="#555" stroke-width="0.8" />
<line x1="129.0" y1="479.24" x2="140.8" y2="479.24" stroke="#7a7a7a" stroke-width="0.8" />
<line x1="226.6" y1="479.24" x2="303.7" y2="479.24" stroke="#7a7a7a" stroke-width="0.8" />
<rect x="140.80" y="476.59" width="85.80" height="5.30" fill="#62bca8" stroke="#6b6b6b" stroke-width="0.75"/>
<line x1="147.4" y1="476.59" x2="147.4" y2="481.89" stroke="#555" stroke-width="0.8" />
<line x1="137.0" y1="493.53" x2="140.9" y2="493.53" stroke="#7a7a7a" stroke-width="0.8" />
<line x1="159.4" y1="493.53" x2="178.7" y2="493.53" stroke="#7a7a7a" stroke-width="0.8" />
<rect x="140.90" y="490.88" width="18.50" height="5.30" fill="#f8f5c5" stroke="#6b6b6b" stroke-width="0.75"/>
<line x1="181.6" y1="498.83" x2="214.6" y2="498.83" stroke="#7a7a7a" stroke-width="0.8" />
<rect x="140.80" y="496.18" width="40.80" height="5.30" fill="#62bca8" stroke="#6b6b6b" stroke-width="0.75"/>
<line x1="144.0" y1="496.18" x2="144.0" y2="501.48" stroke="#555" stroke-width="0.8" />
<line x1="134.4" y1="513.12" x2="140.8" y2="513.12" stroke="#7a7a7a" stroke-width="0.8" />
<line x1="154.6" y1="513.12" x2="163.6" y2="513.12" stroke="#7a7a7a" stroke-width="0.8" />
<rect x="140.80" y="510.47" width="13.80" height="5.30" fill="#f8f5c5" stroke="#6b6b6b" stroke-width="0.75"/>
<line x1="157.2" y1="518.42" x2="173.9" y2="518.42" stroke="#7a7a7a" stroke-width="0.8" />
<rect x="140.80" y="515.77" width="16.40" height="5.30" fill="#62bca8" stroke="#6b6b6b" stroke-width="0.75"/>
<line x1="131.1" y1="532.71" x2="140.8" y2="532.71" stroke="#7a7a7a" stroke-width="0.8" />
<line x1="149.8" y1="532.71" x2="151.4" y2="532.71" stroke="#7a7a7a" stroke-width="0.8" />
<rect x="140.80" y="530.06" width="9.00" height="5.30" fill="#f8f5c5" stroke="#6b6b6b" stroke-width="0.75"/>
<line x1="140.9" y1="353.8" x2="140.9" y2="364.3" stroke="#6b6b6b" stroke-width="0.9" />
<line x1="140.9" y1="485.43" x2="140.9" y2="491.23" stroke="#6b6b6b" stroke-width="0.9" />
<line x1="140.9" y1="505.02" x2="140.9" y2="510.62" stroke="#6b6b6b" stroke-width="0.9" />
<line x1="140.9" y1="524.61" x2="140.9" y2="530.11" stroke="#6b6b6b" stroke-width="0.9" />
<line x1="140.9" y1="535.31" x2="140.9" y2="540.61" stroke="#6b6b6b" stroke-width="0.9" />
<line x1="140.9" y1="546.0" x2="140.9" y2="559.0" stroke="#6b6b6b" stroke-width="0.9" />
<line x1="140.9" y1="565.59" x2="140.9" y2="578.59" stroke="#6b6b6b" stroke-width="0.9" />
<line x1="140.9" y1="585.18" x2="140.9" y2="598.18" stroke="#6b6b6b" stroke-width="0.9" />
<text x="359.6" y="333.8" font-size="14" text-anchor="start" fill="#000" font-weight="bold"  stroke="#000" stroke-width="0.45">d</text>
<text x="380.4" y="333.8" font-size="10.75" text-anchor="start" fill="#231f20"  textLength="199.1" lengthAdjust="spacingAndGlyphs"  stroke="#231f20" stroke-width="0.18">Evolutionary pressure for slower signaling</text>
<rect x="488.60" y="347.00" width="39.93" height="19.45" fill="#f3f3f3"/>
<rect x="528.53" y="347.00" width="39.93" height="19.45" fill="#f3f3f3"/>
<rect x="568.46" y="347.00" width="39.93" height="19.45" fill="#f3f3f3"/>
<rect x="488.60" y="366.45" width="39.93" height="19.45" fill="#f3f3f3"/>
<rect x="528.53" y="366.45" width="39.93" height="19.45" fill="#f3f3f3"/>
<rect x="568.46" y="366.45" width="39.93" height="19.45" fill="#f3f3f3"/>
<rect x="488.60" y="385.90" width="39.93" height="19.45" fill="#f3f3f3"/>
<rect x="528.53" y="385.90" width="39.93" height="19.45" fill="#f3f3f3"/>
<rect x="568.46" y="385.90" width="39.93" height="19.45" fill="#f3f3f3"/>
<rect x="488.60" y="405.35" width="39.93" height="19.45" fill="#f3f3f3"/>
<rect x="528.53" y="405.35" width="39.93" height="19.45" fill="#f3f3f3"/>
<rect x="568.46" y="405.35" width="39.93" height="19.45" fill="#f3f3f3"/>
<rect x="488.60" y="424.80" width="39.93" height="19.45" fill="#f3f3f3"/>
<rect x="528.53" y="424.80" width="39.93" height="19.45" fill="#f3f3f3"/>
<rect x="568.46" y="424.80" width="39.93" height="19.45" fill="#f3f3f3"/>
<rect x="488.60" y="444.25" width="39.93" height="19.45" fill="#f3f3f3"/>
<rect x="528.53" y="444.25" width="39.93" height="19.45" fill="#f3f3f3"/>
<rect x="568.46" y="444.25" width="39.93" height="19.45" fill="#f3f3f3"/>
<rect x="488.60" y="463.70" width="39.93" height="19.45" fill="#f3f3f3"/>
<rect x="528.53" y="463.70" width="39.93" height="19.45" fill="#f3f3f3"/>
<rect x="568.46" y="463.70" width="39.93" height="19.45" fill="#f3f3f3"/>
<rect x="488.60" y="483.15" width="39.93" height="19.45" fill="#f3f3f3"/>
<rect x="528.53" y="483.15" width="39.93" height="19.45" fill="#f3f3f3"/>
<rect x="568.46" y="483.15" width="39.93" height="19.45" fill="#f3f3f3"/>
<rect x="488.60" y="502.60" width="39.93" height="19.45" fill="#f3f3f3"/>
<rect x="528.53" y="502.60" width="39.93" height="19.45" fill="#f3f3f3"/>
<rect x="568.46" y="502.60" width="39.93" height="19.45" fill="#f3f3f3"/>
<rect x="488.60" y="522.05" width="39.93" height="19.45" fill="#f3f3f3"/>
<rect x="528.53" y="522.05" width="39.93" height="19.45" fill="#f3f3f3"/>
<rect x="568.46" y="522.05" width="39.93" height="19.45" fill="#f3f3f3"/>
<rect x="488.60" y="541.50" width="39.93" height="19.45" fill="#f3f3f3"/>
<rect x="528.53" y="541.50" width="39.93" height="19.45" fill="#f3f3f3"/>
<rect x="568.46" y="541.50" width="39.93" height="19.45" fill="#f3f3f3"/>
<rect x="488.60" y="560.95" width="39.93" height="19.45" fill="#f3f3f3"/>
<rect x="528.53" y="560.95" width="39.93" height="19.45" fill="#f3f3f3"/>
<rect x="568.46" y="560.95" width="39.93" height="19.45" fill="#f3f3f3"/>
<rect x="488.60" y="580.40" width="39.93" height="19.45" fill="#f3f3f3"/>
<rect x="528.53" y="580.40" width="39.93" height="19.45" fill="#f3f3f3"/>
<rect x="568.46" y="580.40" width="39.93" height="19.45" fill="#f3f3f3"/>
<rect x="488.60" y="366.45" width="39.93" height="19.45" fill="#f8d5c8"/>
<rect x="568.46" y="405.35" width="39.93" height="19.45" fill="#f8cfc0"/>
<rect x="488.60" y="424.80" width="39.93" height="19.45" fill="#f59a7a"/>
<rect x="528.53" y="424.80" width="39.93" height="19.45" fill="#f5622a"/>
<rect x="568.46" y="424.80" width="39.93" height="19.45" fill="#f55016"/>
<rect x="488.60" y="444.25" width="39.93" height="19.45" fill="#f6e7df"/>
<rect x="528.53" y="444.25" width="39.93" height="19.45" fill="#f7e2d9"/>
<rect x="568.46" y="444.25" width="39.93" height="19.45" fill="#f5d2c5"/>
<rect x="528.53" y="463.70" width="39.93" height="19.45" fill="#f6cdbf"/>
<rect x="568.46" y="463.70" width="39.93" height="19.45" fill="#f5bca5"/>
<rect x="568.46" y="483.15" width="39.93" height="19.45" fill="#f7e3da"/>
<line x1="528.53" y1="347.0" x2="528.53" y2="599.85" stroke="#fff" stroke-width="1.0" />
<line x1="568.46" y1="347.0" x2="568.46" y2="599.85" stroke="#fff" stroke-width="1.0" />
<line x1="488.6" y1="366.45" x2="608.39" y2="366.45" stroke="#fff" stroke-width="1.0" />
<line x1="488.6" y1="385.9" x2="608.39" y2="385.9" stroke="#fff" stroke-width="1.0" />
<line x1="488.6" y1="405.35" x2="608.39" y2="405.35" stroke="#fff" stroke-width="1.0" />
<line x1="488.6" y1="424.8" x2="608.39" y2="424.8" stroke="#fff" stroke-width="1.0" />
<line x1="488.6" y1="444.25" x2="608.39" y2="444.25" stroke="#fff" stroke-width="1.0" />
<line x1="488.6" y1="463.7" x2="608.39" y2="463.7" stroke="#fff" stroke-width="1.0" />
<line x1="488.6" y1="483.15" x2="608.39" y2="483.15" stroke="#fff" stroke-width="1.0" />
<line x1="488.6" y1="502.6" x2="608.39" y2="502.6" stroke="#fff" stroke-width="1.0" />
<line x1="488.6" y1="522.05" x2="608.39" y2="522.05" stroke="#fff" stroke-width="1.0" />
<line x1="488.6" y1="541.5" x2="608.39" y2="541.5" stroke="#fff" stroke-width="1.0" />
<line x1="488.6" y1="560.95" x2="608.39" y2="560.95" stroke="#fff" stroke-width="1.0" />
<line x1="488.6" y1="580.4" x2="608.39" y2="580.4" stroke="#fff" stroke-width="1.0" />
<path d="M488.60 366.45 L528.53 366.45 L528.53 385.90 L488.60 385.90 Z" fill="none" stroke="#5a5a5a" stroke-width="0.9"/>
<path d="M568.46 405.35 L608.39 405.35 L608.39 502.60 L568.46 502.60 L568.46 483.15 L528.53 483.15 L528.53 463.70 L488.60 463.70 L488.60 424.80 L568.46 424.80 Z" fill="none" stroke="#5a5a5a" stroke-width="0.9"/>
<text x="483.3" y="359.43" font-size="10.4" text-anchor="end" fill="#231f20" font-style="italic"   stroke="#231f20" stroke-width="0.18">P. marinus</text>
<text x="483.3" y="378.88" font-size="10.4" text-anchor="end" fill="#231f20" font-style="italic"   stroke="#231f20" stroke-width="0.18">C. carcharias</text>
<text x="483.3" y="398.32" font-size="10.4" text-anchor="end" fill="#231f20" font-style="italic"   stroke="#231f20" stroke-width="0.18">D. rerio</text>
<text x="483.3" y="417.77" font-size="10.4" text-anchor="end" fill="#231f20" font-style="italic"   stroke="#231f20" stroke-width="0.18">X. tropicalis</text>
<text x="483.3" y="437.22" font-size="10.4" text-anchor="end" fill="#231f20" font-style="italic"   stroke="#231f20" stroke-width="0.18">G. gallus</text>
<text x="483.3" y="456.68" font-size="10.4" text-anchor="end" fill="#231f20" font-style="italic"   stroke="#231f20" stroke-width="0.18">O. anatinus</text>
<text x="483.3" y="476.12" font-size="10.4" text-anchor="end" fill="#231f20" font-style="italic"   stroke="#231f20" stroke-width="0.18">S. harrisii</text>
<text x="483.3" y="495.57" font-size="10.4" text-anchor="end" fill="#231f20" font-style="italic"   stroke="#231f20" stroke-width="0.18">D. novemcinctus</text>
<text x="483.3" y="515.03" font-size="10.4" text-anchor="end" fill="#231f20" font-style="italic"   stroke="#231f20" stroke-width="0.18">B. taurus</text>
<text x="483.3" y="534.48" font-size="10.4" text-anchor="end" fill="#231f20" font-style="italic"   stroke="#231f20" stroke-width="0.18">M. musculus</text>
<text x="483.3" y="553.93" font-size="10.4" text-anchor="end" fill="#231f20" font-style="italic"   stroke="#231f20" stroke-width="0.18">M. mulatta</text>
<text x="483.3" y="573.38" font-size="10.4" text-anchor="end" fill="#231f20" font-style="italic"   stroke="#231f20" stroke-width="0.18">P. troglodytes</text>
<text x="483.3" y="592.83" font-size="10.4" text-anchor="end" fill="#231f20" font-style="italic"   stroke="#231f20" stroke-width="0.18">H. sapiens</text>
<text x="516.3" y="607.9" font-size="9.2" text-anchor="end" fill="#231f20"  transform="rotate(-45 516.3 607.9)"  stroke="#231f20" stroke-width="0.18">Ionotropic</text>
<text x="553.4" y="610.0" font-size="9.2" text-anchor="end" fill="#231f20"  transform="rotate(-45 553.4 610.0)"  stroke="#231f20" stroke-width="0.18">Metabotropic</text>
<text x="588.9" y="610.0" font-size="9.2" text-anchor="end" fill="#231f20"  transform="rotate(-45 588.9 610.0)"  stroke="#231f20" stroke-width="0.18">Neuropeptide</text>
<line x1="383.3" y1="349.7" x2="383.3" y2="597.7" stroke="#666" stroke-width="0.8" />
<line x1="379.9" y1="349.7" x2="383.3" y2="349.7" stroke="#666" stroke-width="0.8" />
<text x="375.6" y="353.0" font-size="9.3" text-anchor="end" fill="#231f20"   stroke="#231f20" stroke-width="0.18">563</text>
<line x1="379.9" y1="402.5" x2="383.3" y2="402.5" stroke="#666" stroke-width="0.8" />
<text x="375.6" y="405.8" font-size="9.3" text-anchor="end" fill="#231f20"   stroke="#231f20" stroke-width="0.18">400</text>
<line x1="379.9" y1="433.9" x2="383.3" y2="433.9" stroke="#666" stroke-width="0.8" />
<text x="375.6" y="437.2" font-size="9.3" text-anchor="end" fill="#231f20"   stroke="#231f20" stroke-width="0.18">300</text>
<line x1="379.9" y1="454.3" x2="383.3" y2="454.3" stroke="#666" stroke-width="0.8" />
<text x="375.6" y="457.6" font-size="9.3" text-anchor="end" fill="#231f20"   stroke="#231f20" stroke-width="0.18">200</text>
<line x1="379.9" y1="493.0" x2="383.3" y2="493.0" stroke="#666" stroke-width="0.8" />
<text x="375.6" y="496.3" font-size="9.3" text-anchor="end" fill="#231f20"   stroke="#231f20" stroke-width="0.18">100</text>
<line x1="379.9" y1="597.7" x2="383.3" y2="597.7" stroke="#666" stroke-width="0.8" />
<text x="375.6" y="601.0" font-size="9.3" text-anchor="end" fill="#231f20"   stroke="#231f20" stroke-width="0.18">0</text>
<rect x="389.00" y="349.70" width="9.20" height="16.40" fill="#f6a73a"/>
<text x="396.6" y="357.9" font-size="8.6" text-anchor="middle" fill="#222"  textLength="10.2" lengthAdjust="spacingAndGlyphs" transform="rotate(-90 396.6 357.9)"  stroke="#222" stroke-width="0.18">NP</text>
<rect x="389.00" y="366.10" width="9.20" height="78.40" fill="#9cc48e"/>
<text x="396.6" y="405.3" font-size="8.6" text-anchor="middle" fill="#222"  textLength="37.8" lengthAdjust="spacingAndGlyphs" transform="rotate(-90 396.6 405.3)"  stroke="#222" stroke-width="0.18">Paleozoic</text>
<rect x="389.00" y="444.50" width="9.20" height="97.40" fill="#65c3c5"/>
<text x="396.6" y="493.2" font-size="8.6" text-anchor="middle" fill="#222"  textLength="37.8" lengthAdjust="spacingAndGlyphs" transform="rotate(-90 396.6 493.2)"  stroke="#222" stroke-width="0.18">Mesozoic</text>
<rect x="389.00" y="541.90" width="9.20" height="55.80" fill="#f2ef2e"/>
<text x="396.6" y="569.8" font-size="8.6" text-anchor="middle" fill="#222"  textLength="37.8" lengthAdjust="spacingAndGlyphs" transform="rotate(-90 396.6 569.8)"  stroke="#222" stroke-width="0.18">Cenozoic</text>
<text x="393.6" y="612.6" font-size="10.3" text-anchor="middle" fill="#231f20"  textLength="22.7" lengthAdjust="spacingAndGlyphs"  stroke="#231f20" stroke-width="0.18">Time</text>
<text x="393.5" y="623.0" font-size="10.2" text-anchor="middle" fill="#231f20"  textLength="21" lengthAdjust="spacingAndGlyphs"  stroke="#231f20" stroke-width="0.18">(Ma)</text>
<rect x="642.20" y="409.60" width="7.30" height="128.60" fill="url(#cb2)"/>
<line x1="649.5" y1="410.4" x2="652.2" y2="410.4" stroke="#555" stroke-width="0.8" />
<text x="655.2" y="413.6" font-size="9.2" text-anchor="start" fill="#231f20"   stroke="#231f20" stroke-width="0.18">0.5</text>
<line x1="649.5" y1="435.66" x2="652.2" y2="435.66" stroke="#555" stroke-width="0.8" />
<text x="655.2" y="438.86" font-size="9.2" text-anchor="start" fill="#231f20"   stroke="#231f20" stroke-width="0.18">0.4</text>
<line x1="649.5" y1="460.92" x2="652.2" y2="460.92" stroke="#555" stroke-width="0.8" />
<text x="655.2" y="464.12" font-size="9.2" text-anchor="start" fill="#231f20"   stroke="#231f20" stroke-width="0.18">0.3</text>
<line x1="649.5" y1="486.18" x2="652.2" y2="486.18" stroke="#555" stroke-width="0.8" />
<text x="655.2" y="489.38" font-size="9.2" text-anchor="start" fill="#231f20"   stroke="#231f20" stroke-width="0.18">0.2</text>
<line x1="649.5" y1="511.44" x2="652.2" y2="511.44" stroke="#555" stroke-width="0.8" />
<text x="655.2" y="514.64" font-size="9.2" text-anchor="start" fill="#231f20"   stroke="#231f20" stroke-width="0.18">0.1</text>
<line x1="649.5" y1="536.7" x2="652.2" y2="536.7" stroke="#555" stroke-width="0.8" />
<text x="655.2" y="539.9" font-size="9.2" text-anchor="start" fill="#231f20"   stroke="#231f20" stroke-width="0.18">0</text>
<line x1="635.7" y1="416.0" x2="635.7" y2="538.2" stroke="#555" stroke-width="0.8" />
<path d="M635.7 410.8 L633.6 416.5 L637.8 416.5 Z" fill="#555"/>
<text x="631.0" y="540.8" font-size="9.1" text-anchor="start" fill="#231f20"  textLength="130" lengthAdjust="spacingAndGlyphs" transform="rotate(-90 631.0 540.8)"  stroke="#231f20" stroke-width="0.18">Higher = more positive selection</text>
<text x="676.3" y="416.0" font-size="11.0" text-anchor="start" fill="#231f20"  textLength="115" lengthAdjust="spacingAndGlyphs" transform="rotate(90 676.3 416.0)"  stroke="#231f20" stroke-width="0.18">dn/ds (log-transformed)</text>
<defs><g id="ic0" fill="none" stroke="#2a2a2a" stroke-width="0.7" stroke-linejoin="round" stroke-linecap="round"><ellipse cx="9.2" cy="2.2" rx="1.3" ry="1.7" fill="#2a2a2a" stroke-width="0.8"/><circle cx="9.3" cy="1.9" r="0.4" fill="#fff" stroke="none"/><path d="M8.2 3.6 C5.8 4.2 2.8 5.0 1.4 6.8 C0.6 8.2 1.6 9.9 3.6 10.3 C5.6 10.6 7.6 10.4 9.4 9.8"/><path d="M9.6 3.8 C7.4 5.4 3.8 6.2 2.8 7.6 C3.6 8.7 6.2 8.7 8.2 8.5"/><path d="M3.4 10.0 L8.0 9.9" stroke-width="1.0"/></g><g id="ic1" fill="none" stroke="#2a2a2a" stroke-width="0.7" stroke-linejoin="round" stroke-linecap="round"><path d="M0.2 5.1 C4 3.6 9 3.3 12.3 3.5 L12.7 0.4 L14.6 3.6 C17 3.9 20 4.6 22 5.4 L27 1.2 L24.9 5.7 L26.2 8.7 L22 6.1 C20 6.9 17 7.3 14 7.5 L10.3 7.3 L9.8 11.4 L7.6 7.1 C4 6.8 1.5 6 0.2 5.1 Z"/><path d="M7.5 5.6 L14 6.0 M1.5 4.8 L3.2 5.6" /></g><g id="ic2" fill="none" stroke="#2a2a2a" stroke-width="0.7" stroke-linejoin="round" stroke-linecap="round"><path d="M0.3 4.4 C3 2.8 8 2.4 12 3.4 L15.9 1.4 L14.6 4.4 L15.9 7.2 L12 5.6 C8 7.0 3 6.6 0.3 4.4 Z"/><path d="M5.8 2.9 C6.3 0.8 9.2 0.4 9.8 2.6"/><path d="M3.6 5.8 L5.4 7.8 M7.2 6.2 L8.6 8.0 M2 4.4 L12 4.5 M12.4 3.4 L12.4 5.6" /></g><g id="ic3" fill="none" stroke="#2a2a2a" stroke-width="0.7" stroke-linejoin="round" stroke-linecap="round"><path d="M0.6 1.8 C1.0 0.6 2.4 0.2 3.6 0.8 C6 0.9 9 1.8 10.8 3.4 C11.8 4.6 12.0 6.6 11.2 8.2 C10.2 8.6 8.6 8.2 7.6 7.4 C6 7.6 4.2 7.2 3.2 6.2 C1.8 5.4 0.6 3.6 0.6 1.8 Z"/><circle cx="2.2" cy="2.0" r="0.7" fill="#2a2a2a"/><path d="M3.2 6.2 L1.8 9.0 M8.4 7.8 L9.6 9.8 M11.2 8.2 L11.8 9.6 M0.9 3.9 L3.0 4.4"/><path d="M0.6 9.4 L2.8 9.0 M9.4 10.0 L11.8 10.2 M0.2 5.4 L2.2 5.6" stroke-width="1.3"/></g><g id="ic4" fill="none" stroke="#2a2a2a" stroke-width="0.7" stroke-linejoin="round" stroke-linecap="round"><path d="M1.6 0.4 C0.4 0.6 0.2 2.2 0.8 3.4 C1.2 5 1.2 6.4 2.2 8 C3 9 4.4 9.8 5.8 9.7 C7 9.6 8.2 8.6 8.8 7.9"/><path d="M1.6 0.4 C2.8 0.2 3.8 1.2 3.8 2.8 C4.2 4 5.6 5.6 7.3 7.3 C7.2 5.5 7.8 3.6 9.9 2.4 C11.2 2 12.2 2.8 11.9 4.2 C11.7 5.6 10.6 7.2 8.8 7.9"/><path d="M2.2 0.9 L1.2 2.6 M9.2 4.2 L10.6 3.6 M8.6 6.0 L10.4 5.4" stroke-width="1.1"/><path d="M4.8 9.7 L5.0 11.2 M3.9 11.6 L5.9 11.9" stroke-width="1.3"/></g><g id="ic5" fill="none" stroke="#2a2a2a" stroke-width="0.7" stroke-linejoin="round" stroke-linecap="round"><path d="M5.3 3.9 L3.2 4.5 C2 4.9 0.8 5.2 0.2 5.8 C0.1 6.5 0.6 7.2 1.4 7.4 C2.2 7.8 3.8 7.4 5.5 6.7 Z"/><path d="M5.3 3.7 C5.6 2.8 6.2 2.2 7 2.1 C8.5 2.1 10 2.2 11 2 C12 1.4 13 0.4 14 0.3 C15 0.2 16 0.6 16.4 1 C17.5 1.8 18.6 2.6 19.6 3.2 C21 3.8 22.6 4.6 23.6 5.2 C23 5.8 22 6 20.8 5.9 C20 5.6 19.2 5.4 18.6 5.4 C18.2 6.4 17.8 7.8 16.9 8.4 C16 8.2 15.2 7.8 14.3 7.5 C13 7.2 12 7.2 10.9 7.3 C10 7.8 9 9 8.3 9.3 C7.6 9.0 7.2 8.4 7 8 C6.4 7.4 5.8 7 5.5 6.7"/><path d="M11.8 4.8 L11.9 6.8 M15.2 3.8 L15.6 6.8" /><path d="M7.4 8.4 L8.6 9.2 M15.2 7.6 L16.8 8.2" stroke-width="1.2"/></g><g id="ic6" fill="none" stroke="#2a2a2a" stroke-width="0.7" stroke-linejoin="round" stroke-linecap="round"><path d="M0.1 3.2 C0.6 2.4 1.2 1.8 1.7 1.5 C2.6 1 3.2 0.7 3.9 0.6 C4.4 0.8 4.8 1.2 5.2 1.5 C6.2 1.1 7.2 0.7 8.2 0.6 C9.4 0.5 10.6 0.6 11.6 0.8 C12.6 1.3 13.2 1.8 13.8 2.4 C14.4 3 15 3.5 15.5 3.8 C16.4 4.2 17.4 4.5 18.2 4.7 C17.4 5 16.4 5.1 15.5 5.1 C14.6 5.4 13.6 5.8 12.9 6.2 C12.6 6.6 12.5 7 12.5 7.5 C11.6 7.4 10.6 7.1 9.9 6.8 C9 6.5 8.4 6.3 7.7 6.2 C7 6.4 6.4 6.7 6 7 C5.6 6.4 5.4 6 5.2 5.8 C4.8 5 4.4 4.6 4.3 4.5 C3.4 4.3 2.6 4.2 2.2 4.1 C1.4 3.8 0.6 3.5 0.1 3.2 Z"/><path d="M3.4 0.8 L4.4 1.4 M0.2 3.2 L1.4 3.6 M3.6 6.2 L5.4 7.2 M10 6.4 L12 7.6" stroke-width="1.3"/></g><g id="ic7" fill="none" stroke="#2a2a2a" stroke-width="0.7" stroke-linejoin="round" stroke-linecap="round"><ellipse cx="10.4" cy="4.6" rx="4.2" ry="4.0" fill="#b5b5b5" stroke="none"/><path d="M0.3 7.6 L2.6 3.0 L3.4 1.4 L4.2 2.8 C5.5 1.2 8 0.4 10.5 0.5 C13.5 0.7 15.5 3 16.2 6.4 C16.8 8 18.5 8.6 22.8 8.4 L17 9.2 C14 9.6 11 9.4 8 9.2 L5 8.6 C3.5 8.4 1.8 8 0.3 7.6 Z"/><path d="M2.6 3.4 L5.0 4.0"/><path d="M6.2 9.4 L5.6 10.8 L7.4 10.8 M11.5 9.6 L11.8 11 L13.6 11" stroke-width="1.2"/></g><g id="ic8" fill="none" stroke="#2a2a2a" stroke-width="0.7" stroke-linejoin="round" stroke-linecap="round"><path d="M3 0.2 L5.4 3.6 M5.6 0.3 L3.2 3.4"/><path d="M4.1 3.5 L0.4 6.9 L1.5 7.6 L3.8 8.4 L4.5 8.6 L4.5 14.7 L5.4 14.7 L5.6 9.4 L6.4 9.9 L6.8 16.6 L7.8 16.6 L8.3 10.3 C10.5 10.5 13 10.8 15 11 L15 16.3 L16.2 16.6 L17.3 8.4 L19.5 9.1 C19.6 8 19.5 7 19.2 6.1 C18.8 5 18 4.4 17.3 4.2 C15 4.2 12.5 4.2 10.5 4.2 C8.5 4 6.8 3.6 5.3 3.5 Z"/></g><g id="ic9" fill="none" stroke="#2a2a2a" stroke-width="0.7" stroke-linejoin="round" stroke-linecap="round"><path d="M0.6 3.6 C1.4 2.2 2.2 1.2 3.2 0.9 C5.2 0.4 7.2 0.3 9.2 0.5 C10.8 1.2 11.8 2.2 12.2 3.5 C12.4 4.4 12.4 5.2 12.2 5.8 C11.4 6.6 10.4 7.1 9.2 7.3 C7.4 7.3 5.6 7 3.9 6.6 C2.8 6.2 1.6 5.8 1 5.4 C0.6 4.8 0.5 4.2 0.6 3.6 Z"/><path d="M12.2 5.8 C13.2 6.2 14.2 6.8 14.1 7.6 C13.8 8.6 13 9.2 11.8 9.3 L9.2 9.2"/><path d="M2.6 1.6 L4.4 2.8 M3.8 6.6 L4.4 7.4 M7.6 6.4 L8.4 7.6" stroke-width="1.1"/></g><g id="ic10" fill="none" stroke="#2a2a2a" stroke-width="0.7" stroke-linejoin="round" stroke-linecap="round"><path d="M0.4 5 C0.6 4 1 3.4 1.5 3.2 C2.5 3.1 3.6 3.3 4.5 3.6 C5 4 5.3 4.5 5.6 5 C7.8 4.4 10 3.6 12 3.2 C13.5 3.1 15 3 16.5 2.8 C17.5 2.4 18.2 1.9 18.8 1.3 C19.2 0.9 19.4 0.5 19.5 0.2"/><path d="M0.4 5.2 C0.8 6.4 1.6 7.2 2.3 8 C3 8.6 3.4 9 3.8 9.5 L3 12.2 M4.5 9.5 L5.3 12.2 M6 8.8 C7.5 8 9 7.2 10.5 6.6 L11.3 12.2 M12.8 4.3 C13.2 5.5 13.5 6.8 13.5 8 L13.2 12.2"/><path d="M2.2 12.4 L4.0 12.4 M4.6 12.4 L6.2 12.4 M10.6 12.4 L12.2 12.4 M12.6 12.4 L14.2 12.4" stroke-width="1.2"/></g><g id="ic11" fill="none" stroke="#2a2a2a" stroke-width="0.7" stroke-linejoin="round" stroke-linecap="round"><ellipse cx="4.6" cy="2.7" rx="3.6" ry="2.6" fill="#777" stroke-width="0.9"/><path d="M2.4 2.6 L3.8 2.4 M5.4 2.4 L6.8 2.6" stroke="#fff" stroke-width="0.7"/><path d="M2.3 5.1 L0.2 6.4 C0.1 8 0.3 10 0.7 11.4 C1.6 12.6 2.6 13.3 3.8 13.5 C5.6 13.3 7.4 12.9 9 12.4 C10.5 11.9 12 11.5 13.2 10.9 C13.6 9.4 13.8 7.8 13.7 6.2 C13.2 5.2 12.5 4.6 11.6 4.1 C10.6 3.6 9.5 3.3 8.5 3.1"/><path d="M3.8 6.2 L3.8 9.3 M6.4 7.2 C7.5 6.8 8.5 6.6 9.6 6.7 C10.4 6.8 11 7 11.6 7.2 M1.2 9.8 C3 10.2 4.8 10.4 6.4 10.4 C7.2 9.8 7.9 9.2 8.5 8.8 M10.4 8.4 L10.6 11.6"/><path d="M3.8 13.2 L8.5 12.4" stroke-width="1.3"/></g><g id="ic12" fill="none" stroke="#2a2a2a" stroke-width="0.7" stroke-linejoin="round" stroke-linecap="round"><circle cx="2.65" cy="1.25" r="1.15"/><path d="M1.35 3 C0.6 3.1 0.1 3.3 0.04 3.5 L0.3 6.6 L1.35 7.6 L1.6 12 L3.95 12 L4.2 7.6 L5.2 6.6 L5.2 3.5 C5 3.3 4.6 3.1 3.95 3 Z"/><rect x="1.8" y="7.8" width="2" height="4" fill="#bbb" stroke="none"/></g></defs><use href="#ic0" transform="translate(266.5 25.4)"/><use href="#ic0" transform="translate(11.2 351.0)"/><use href="#ic1" transform="translate(258.0 40.0)"/><use href="#ic1" transform="translate(5.5 370.0)"/><use href="#ic2" transform="translate(263.9 57.4)"/><use href="#ic2" transform="translate(6.2 391.4)"/><use href="#ic3" transform="translate(265.9 71.2)"/><use href="#ic3" transform="translate(9.4 410.0)"/><use href="#ic4" transform="translate(265.8 86.0)"/><use href="#ic4" transform="translate(8.7 428.2)"/><use href="#ic5" transform="translate(260.0 103.2)"/><use href="#ic5" transform="translate(5.5 448.7)"/><use href="#ic6" transform="translate(262.7 118.7)"/><use href="#ic6" transform="translate(5.7 469.6)"/><use href="#ic7" transform="translate(260.2 132.8)"/><use href="#ic7" transform="translate(5.7 487.9)"/><use href="#ic8" transform="translate(262.0 145.9)"/><use href="#ic8" transform="translate(5.5 504.1)"/><use href="#ic9" transform="translate(264.8 165.0)"/><use href="#ic9" transform="translate(5.5 527.2)"/><use href="#ic10" transform="translate(262.0 177.0)"/><use href="#ic10" transform="translate(5.5 545.1)"/><use href="#ic11" transform="translate(265.0 193.2)"/><use href="#ic11" transform="translate(5.7 564.4)"/><use href="#ic12" transform="translate(269.3 210.0)"/><use href="#ic12" transform="translate(8.8 585.0)"/>
</svg></body></html>
